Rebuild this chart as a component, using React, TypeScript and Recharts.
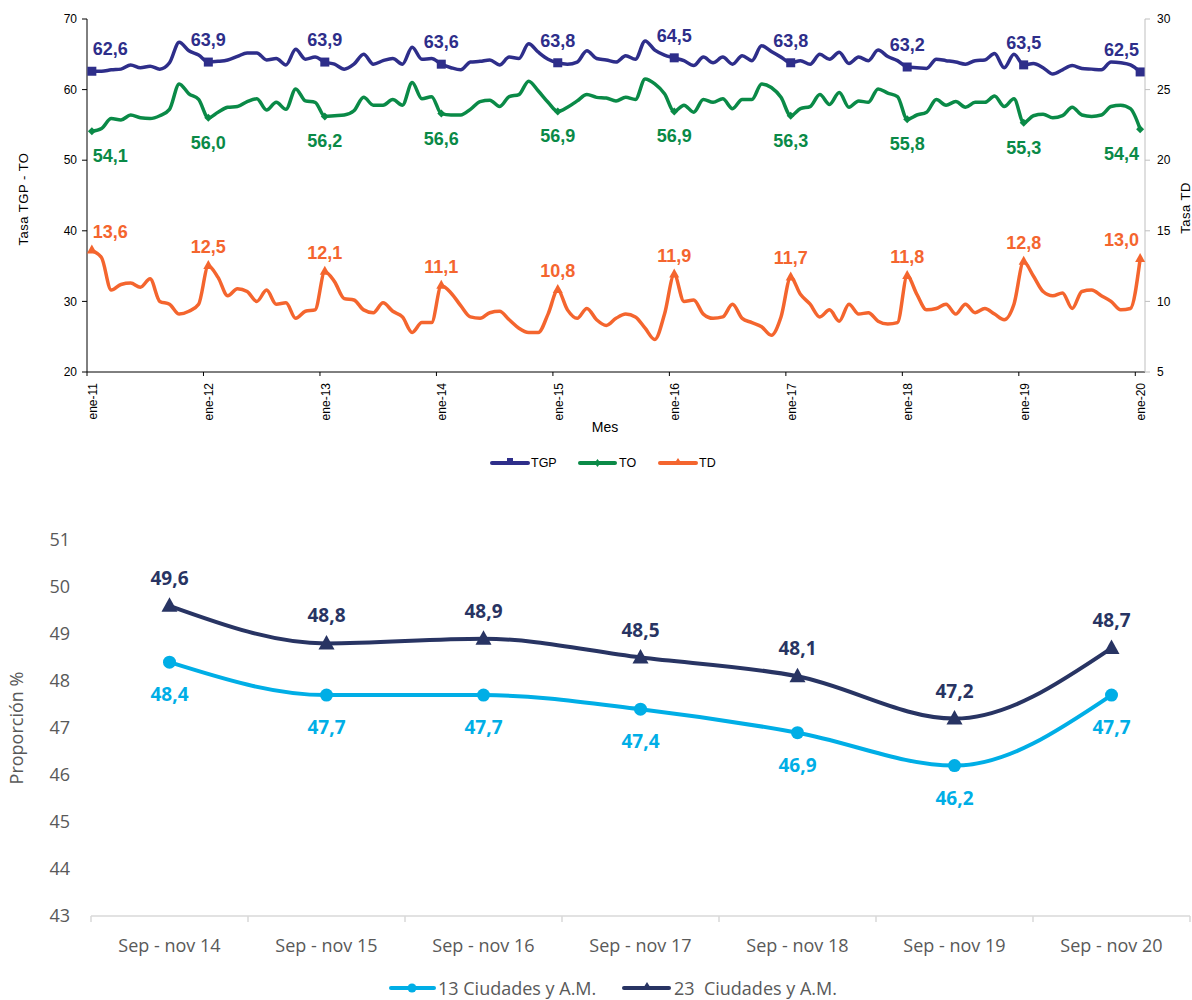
import React from 'react';
import { LineChart, Line, XAxis, YAxis, Legend, LabelList, Label } from 'recharts';

// ---------- Top chart data (monthly, ene-11 .. ene-20) ----------
const xTickLabels = ['ene-11', 'ene-12', 'ene-13', 'ene-14', 'ene-15', 'ene-16', 'ene-17', 'ene-18', 'ene-19', 'ene-20'];

const tgp = [
  62.6, 62.6, 62.8, 62.9, 63.5, 63.1, 63.3, 62.9, 63.8, 66.7, 65.5, 64.9,
  63.9, 64.0, 64.2, 64.7, 65.2, 65.2, 64.2, 64.4, 63.5, 65.7, 64.3, 64.6,
  63.9, 63.6, 62.9, 63.6, 65.0, 63.6, 64.1, 64.4, 63.6, 66.0, 64.3, 64.4,
  63.6, 63.1, 62.8, 63.9, 64.0, 64.2, 63.5, 64.6, 64.4, 66.5, 65.3, 64.3,
  63.8, 63.6, 63.9, 65.5, 64.4, 64.2, 63.9, 64.8, 64.3, 66.9, 65.6, 64.9,
  64.5, 64.1, 63.4, 64.6, 63.8, 64.6, 63.6, 64.8, 64.1, 66.2, 65.4, 64.6,
  63.8, 64.1, 63.6, 65.0, 64.3, 65.3, 63.7, 64.6, 64.1, 65.6, 64.7, 64.1,
  63.2, 63.1, 63.0, 64.3, 64.1, 63.9, 63.6, 64.1, 64.2, 65.1, 63.1, 65.0,
  63.5, 63.7, 63.1, 62.2, 62.8, 63.4, 63.0, 62.9, 62.8, 63.9, 63.8, 63.5,
  62.5,
];

const to = [
  54.1, 54.5, 55.9, 55.7, 56.4, 56.0, 55.9, 56.3, 57.2, 60.8, 59.4, 58.6,
  56.0, 56.8, 57.5, 57.6, 58.3, 58.7, 57.1, 58.2, 57.2, 60.1, 58.4, 58.2,
  56.2, 56.3, 56.4, 57.0, 58.9, 57.8, 57.8, 58.6, 57.8, 61.0, 58.7, 59.0,
  56.6, 56.4, 56.4, 57.2, 58.3, 58.5, 57.6, 59.0, 59.3, 61.2, 59.8, 58.2,
  56.9, 57.5, 58.4, 59.3, 58.9, 58.8, 58.4, 58.9, 58.6, 61.5, 60.8, 59.4,
  56.9, 57.8, 56.8, 58.6, 58.2, 58.7, 57.3, 58.6, 58.6, 60.8, 60.3, 58.9,
  56.3, 57.3, 57.6, 59.3, 57.9, 59.6, 57.5, 58.4, 58.2, 60.1, 59.5, 59.0,
  55.8, 56.4, 56.8, 58.6, 57.8, 58.3, 57.5, 58.2, 58.2, 59.1, 57.6, 58.7,
  55.3, 56.3, 56.5, 56.0, 56.3, 57.5, 56.4, 56.2, 56.4, 57.6, 57.8, 57.3,
  54.4,
];

const td = [
  13.6, 13.1, 10.8, 11.2, 11.3, 11.0, 11.6, 10.0, 9.8, 9.1, 9.3, 9.8,
  12.5, 11.7, 10.4, 10.9, 10.7, 10.0, 10.8, 9.8, 9.9, 8.8, 9.3, 9.4,
  12.1, 11.4, 10.2, 10.1, 9.4, 9.2, 9.9, 9.3, 8.9, 7.8, 8.5, 8.5,
  11.1, 10.6, 9.7, 8.9, 8.8, 9.2, 9.3, 8.7, 8.1, 7.8, 7.8, 9.1,
  10.8, 9.4, 8.8, 9.5, 8.7, 8.3, 8.8, 9.1, 8.9, 8.1, 7.3, 9.1,
  11.9, 10.0, 10.1, 9.1, 8.8, 8.9, 9.8, 8.8, 8.5, 8.2, 7.6, 8.9,
  11.7, 10.5, 9.8, 8.9, 9.4, 8.6, 9.8, 9.1, 9.2, 8.6, 8.4, 8.5,
  11.8, 10.5, 9.4, 9.5, 9.8, 9.1, 9.8, 9.2, 9.5, 9.1, 8.7, 9.8,
  12.8, 11.8, 10.7, 10.4, 10.6, 9.5, 10.7, 10.8, 10.4, 10.0, 9.4, 9.5,
  13.0,
];

const leftTicks = [20, 30, 40, 50, 60, 70];
const rightTicks = [5, 10, 15, 20, 25, 30];

// ---------- Bottom chart data ----------
const periods = ['Sep - nov 14', 'Sep - nov 15', 'Sep - nov 16', 'Sep - nov 17', 'Sep - nov 18', 'Sep - nov 19', 'Sep - nov 20'];
const ciudades13 = [48.4, 47.7, 47.7, 47.4, 46.9, 46.2, 47.7];
const ciudades23 = [49.6, 48.8, 48.9, 48.5, 48.1, 47.2, 48.7];
const bottomTicks = [43, 44, 45, 46, 47, 48, 49, 50, 51];

// ---------- Styles ----------
const C_TGP = '#2E2E8A';
const C_TO = '#0A8A47';
const C_TD = '#F4652E';
const C_13 = '#00AEE6';
const C_23 = '#283463';
const GRAY = '#595959';
const TOP_FONT = '"Liberation Sans", Arial, sans-serif';
const BOT_FONT = '"Open Sans", "Noto Sans", sans-serif';

const LAST = tgp.length - 1;
const topData = tgp.map((v, i) => ({
  i,
  tgp: v,
  to: to[i],
  td: td[i],
  tgpLbl: i % 12 === 0 ? v : null,
  toLbl: i % 12 === 0 ? to[i] : null,
  tdLbl: i % 12 === 0 ? td[i] : null,
}));
const xTickValues = xTickLabels.map((_, k) => k * 12 - 0.5);

const bottomData = periods.map((p, i) => ({ p, c13: ciudades13[i], c23: ciudades23[i] }));

const fmt = (v: number) => v.toFixed(1).replace('.', ',');

const XTick = (props: any) => {
  const { x, y, payload } = props;
  const k = Math.round((payload.value + 0.5) / 12);
  return (
    <g transform={`translate(${x},${y})`}>
      <text transform="rotate(-90)" x={-5} y={10} textAnchor="end" fontSize={12} fill="#000" fontFamily={TOP_FONT}>
        {xTickLabels[k]}
      </text>
    </g>
  );
};

const makeTopLabel = (color: string, dy: number) => (props: any) => {
  const { x, y, value, index } = props;
  if (value === null || value === undefined) return null;
  let anchor: 'start' | 'middle' | 'end' = 'middle';
  let dx = 0;
  if (index === 0) { anchor = 'start'; dx = 1; }
  else if (index === LAST) { anchor = 'end'; dx = -1; }
  return (
    <text x={x + dx} y={y + dy} textAnchor={anchor} fontSize={18} fontWeight="bold" fill={color} fontFamily={TOP_FONT}>
      {fmt(value)}
    </text>
  );
};

const squareDot = (props: any) => {
  const { cx, cy, payload, index } = props;
  if (payload.i % 12 !== 0) return <g key={`s${index}`} />;
  return <rect key={`s${index}`} x={cx - 4.5} y={cy - 4.5} width={9} height={9} fill={C_TGP} />;
};
const diamondDot = (props: any) => {
  const { cx, cy, payload, index } = props;
  if (payload.i % 12 !== 0) return <g key={`d${index}`} />;
  return <path key={`d${index}`} d={`M${cx},${cy - 4}L${cx + 4},${cy}L${cx},${cy + 4}L${cx - 4},${cy}Z`} fill={C_TO} />;
};
const triDot = (props: any) => {
  const { cx, cy, payload, index } = props;
  if (payload.i % 12 !== 0) return <g key={`t${index}`} />;
  return <path key={`t${index}`} d={`M${cx},${cy - 6}L${cx + 5},${cy + 3}L${cx - 5},${cy + 3}Z`} fill={C_TD} />;
};

const TopLegend = () => (
  <svg width={1192} height={30} style={{ display: 'block' }}>
    <g fontFamily={TOP_FONT} fontSize={12.5} fill="#000">
      <line x1={492} x2={528} y1={15} y2={15} stroke={C_TGP} strokeWidth={4} strokeLinecap="round" />
      <rect x={507} y={10} width={6} height={6} fill={C_TGP} />
      <text x={531} y={15} dominantBaseline="central">TGP</text>
      <line x1={580} x2={615} y1={15} y2={15} stroke={C_TO} strokeWidth={4} strokeLinecap="round" />
      <path d="M597.5,11L600.5,15L597.5,19L594.5,15Z" fill={C_TO} />
      <text x={619} y={15} dominantBaseline="central">TO</text>
      <line x1={660} x2={696} y1={15} y2={15} stroke={C_TD} strokeWidth={4} strokeLinecap="round" />
      <path d="M678,10L682,16L674,16Z" fill={C_TD} />
      <text x={699} y={15} dominantBaseline="central">TD</text>
    </g>
  </svg>
);

// ---------- Bottom chart helpers ----------
const HALF_BAND = 78.5;

const BottomXTick = (props: any) => {
  const { x, y, payload, index } = props;
  const isLast = index === periods.length - 1;
  return (
    <g>
      <line x1={x - HALF_BAND} x2={x - HALF_BAND} y1={y} y2={y + 6} stroke="#D9D9D9" strokeWidth={1.5} />
      {isLast && <line x1={x + HALF_BAND} x2={x + HALF_BAND} y1={y} y2={y + 6} stroke="#D9D9D9" strokeWidth={1.5} />}
      <text x={x} y={y + 29} textAnchor="middle" dominantBaseline="central" fontSize={18} fill={GRAY} fontFamily={BOT_FONT}>
        {payload.value}
      </text>
    </g>
  );
};

const makeBottomLabel = (color: string, dy: number) => (props: any) => {
  const { x, y, value } = props;
  if (value === null || value === undefined) return null;
  return (
    <text x={x} y={y + dy} textAnchor="middle" dominantBaseline="central" fontSize={19} fontWeight="bold" fill={color} fontFamily={BOT_FONT}>
      {fmt(value)}
    </text>
  );
};

const circleDot = (props: any) => {
  const { cx, cy, index } = props;
  return <circle key={`c${index}`} cx={cx} cy={cy} r={6.5} fill={C_13} />;
};
const bigTriDot = (props: any) => {
  const { cx, cy, index } = props;
  return <path key={`b${index}`} d={`M${cx},${cy - 8.5}L${cx + 8},${cy + 6}L${cx - 8},${cy + 6}Z`} fill={C_23} />;
};

const BottomLegend = () => (
  <svg width={1192} height={24} style={{ display: 'block' }}>
    <g fontFamily={BOT_FONT} fontSize={18} fill={GRAY}>
      <line x1={391} x2={434} y1={12} y2={12} stroke={C_13} strokeWidth={4} strokeLinecap="round" />
      <circle cx={412} cy={12} r={4.5} fill={C_13} />
      <text x={438} y={12} dominantBaseline="central">13 Ciudades y A.M.</text>
      <line x1={624} x2={669} y1={12} y2={12} stroke={C_23} strokeWidth={4} strokeLinecap="round" />
      <path d="M647,6L652,14L642,14Z" fill={C_23} />
      <text x={674} y={12} dominantBaseline="central" style={{ whiteSpace: 'pre' }} xmlSpace="preserve">23  Ciudades y A.M.</text>
    </g>
  </svg>
);

export default function App() {
  return (
    <div style={{ position: 'absolute', left: 0, top: 0, width: 1192, height: 1000, background: '#fff' }}>
      <div style={{ position: 'absolute', left: 0, top: 0 }}>
        <LineChart width={1192} height={490} data={topData} margin={{ top: 19, right: 0, bottom: 12, left: 0 }}>
          <XAxis
            dataKey="i"
            type="number"
            domain={[-0.5, 108.5]}
            ticks={xTickValues}
            interval={0}
            height={76}
            tick={<XTick />}
            tickSize={4}
            axisLine={{ stroke: '#000', strokeWidth: 1 }}
            tickLine={{ stroke: '#000' }}
          >
            <Label
              content={() => (
                <text x={605} y={432} textAnchor="middle" fontSize={14} fill="#000" fontFamily={TOP_FONT}>Mes</text>
              )}
            />
          </XAxis>
          <YAxis
            yAxisId="left"
            domain={[20, 70]}
            ticks={leftTicks}
            width={87}
            tickSize={5}
            tickMargin={5}
            axisLine={{ stroke: '#000' }}
            tickLine={{ stroke: '#000' }}
            tick={{ fontSize: 12, fill: '#000', fontFamily: TOP_FONT }}
          >
            <Label
              content={() => (
                <text x={23} y={199} transform="rotate(-90 23 199)" textAnchor="middle" dominantBaseline="central" fontSize={13} fill="#000" fontFamily={TOP_FONT} letterSpacing={0.5}>
                  Tasa TGP - TO
                </text>
              )}
            />
          </YAxis>
          <YAxis
            yAxisId="right"
            orientation="right"
            domain={[5, 30]}
            ticks={rightTicks}
            width={47}
            tickSize={5}
            tickMargin={7}
            axisLine={{ stroke: '#BFBFBF' }}
            tickLine={{ stroke: '#BFBFBF' }}
            tick={{ fontSize: 12, fill: '#000', fontFamily: TOP_FONT }}
          >
            <Label
              content={() => (
                <text x={1185} y={208} transform="rotate(-90 1185 208)" textAnchor="middle" dominantBaseline="central" fontSize={13} fill="#000" fontFamily={TOP_FONT} letterSpacing={0.5}>
                  Tasa TD
                </text>
              )}
            />
          </YAxis>
          <Legend verticalAlign="bottom" height={30} content={() => <TopLegend />} />
          <Line yAxisId="left" type="monotone" dataKey="tgp" stroke={C_TGP} strokeWidth={3.5} dot={squareDot} activeDot={false} isAnimationActive={false}>
            <LabelList dataKey="tgpLbl" content={makeTopLabel(C_TGP, -16)} />
          </Line>
          <Line yAxisId="left" type="monotone" dataKey="to" stroke={C_TO} strokeWidth={3.5} dot={diamondDot} activeDot={false} isAnimationActive={false}>
            <LabelList dataKey="toLbl" content={makeTopLabel(C_TO, 31)} />
          </Line>
          <Line yAxisId="right" type="monotone" dataKey="td" stroke={C_TD} strokeWidth={3.5} dot={triDot} activeDot={false} isAnimationActive={false}>
            <LabelList dataKey="tdLbl" content={makeTopLabel(C_TD, -13)} />
          </Line>
        </LineChart>
      </div>
      <div style={{ position: 'absolute', left: 0, top: 490 }}>
        <LineChart width={1192} height={510} data={bottomData} margin={{ top: 50, right: 2, bottom: 0, left: 0 }}>
          <XAxis
            dataKey="p"
            interval={0}
            height={60}
            padding={{ left: HALF_BAND, right: HALF_BAND }}
            axisLine={{ stroke: '#D9D9D9', strokeWidth: 1.5 }}
            tickLine={false}
            tickSize={0}
            tickMargin={0}
            tick={<BottomXTick />}
          />
          <YAxis
            domain={[43, 51]}
            ticks={bottomTicks}
            width={91}
            axisLine={false}
            tickLine={false}
            tickSize={0}
            tickMargin={21}
            tick={{ fontSize: 18, fill: GRAY, fontFamily: BOT_FONT }}
          >
            <Label
              content={() => (
                <text x={16} y={238} transform="rotate(-90 16 238)" textAnchor="middle" dominantBaseline="central" fontSize={18} fill={GRAY} fontFamily={BOT_FONT}>
                  Proporción %
                </text>
              )}
            />
          </YAxis>
          <Legend verticalAlign="bottom" height={24} content={() => <BottomLegend />} />
          <Line type="monotone" dataKey="c13" stroke={C_13} strokeWidth={4} dot={circleDot} activeDot={false} isAnimationActive={false}>
            <LabelList dataKey="c13" content={makeBottomLabel(C_13, 32)} />
          </Line>
          <Line type="monotone" dataKey="c23" stroke={C_23} strokeWidth={4} dot={bigTriDot} activeDot={false} isAnimationActive={false}>
            <LabelList dataKey="c23" content={makeBottomLabel(C_23, -28)} />
          </Line>
        </LineChart>
      </div>
    </div>
  );
}
